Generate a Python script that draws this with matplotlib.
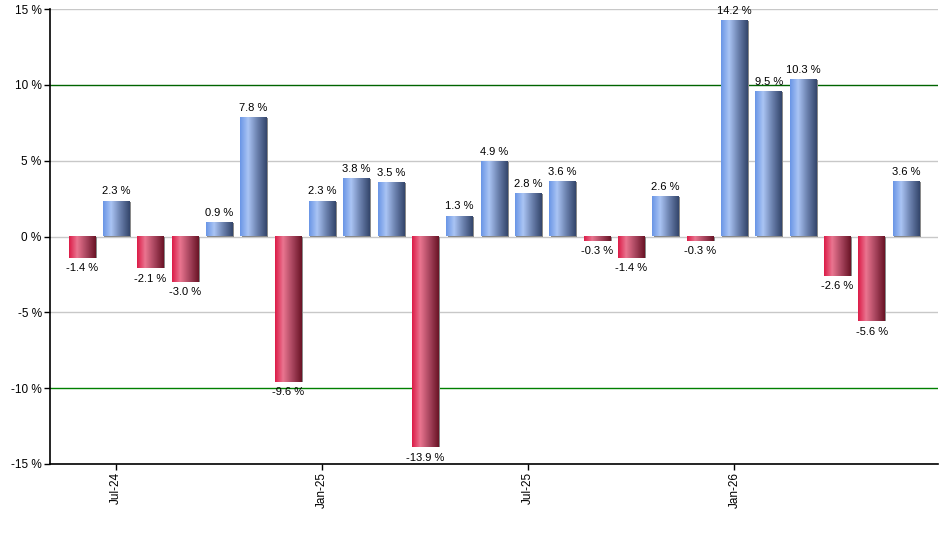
import numpy as np
import matplotlib
matplotlib.use('Agg')
import matplotlib.pyplot as plt
from matplotlib.colors import LinearSegmentedColormap
from matplotlib.patches import Rectangle

# monthly returns, Jun-24 .. Jun-26
months = ['Jun-24', 'Jul-24', 'Aug-24', 'Sep-24', 'Oct-24', 'Nov-24', 'Dec-24',
          'Jan-25', 'Feb-25', 'Mar-25', 'Apr-25', 'May-25', 'Jun-25',
          'Jul-25', 'Aug-25', 'Sep-25', 'Oct-25', 'Nov-25', 'Dec-25',
          'Jan-26', 'Feb-26', 'Mar-26', 'Apr-26', 'May-26', 'Jun-26']
returns = [-1.4, 2.3, -2.1, -3.0, 0.9, 7.8, -9.6,
           2.3, 3.8, 3.5, -13.9, 1.3, 4.9,
           2.8, 3.6, -0.3, -1.4, 2.6, -0.3,
           14.2, 9.5, 10.3, -2.6, -5.6, 3.6]
tick_months = ['Jul-24', 'Jan-25', 'Jul-25', 'Jan-26']
y_ticks = [-15, -10, -5, 0, 5, 10, 15]

blue_cm = LinearSegmentedColormap.from_list(
    'blue', [(0, '#6a96e6'), (0.3, '#aac4f4'), (0.65, '#6a80ad'), (1, '#34466c')])
red_cm = LinearSegmentedColormap.from_list(
    'red', [(0, '#dc1c48'), (0.3, '#ea7590'), (0.65, '#a8455e'), (1, '#6a1426')])

fig = plt.figure(figsize=(9.4, 5.5), dpi=100)
ax = fig.add_axes([50 / 940, 86 / 550, 888 / 940, 455 / 550])

width = 0.78
grad = np.linspace(0, 1, 64).reshape(1, -1)
x = np.arange(len(returns))
for xi, v in zip(x, returns):
    x0, x1 = xi - width / 2, xi + width / 2
    cm = blue_cm if v >= 0 else red_cm
    # shadow on the right edge
    ax.add_patch(Rectangle((x0 + 0.04, min(0, v)), width, abs(v),
                           facecolor='#8a8a8a', edgecolor='none', zorder=2))
    ax.imshow(grad, cmap=cm, extent=[x0, x1, min(0, v), max(0, v)],
              aspect='auto', interpolation='bilinear', zorder=3)
    if v >= 0:
        ax.text(xi, v + 0.35, f'{v:.1f} %', ha='center', va='bottom',
                fontsize=8, family='Liberation Sans', zorder=4)
    else:
        ax.text(xi, v - 0.35, f'{v:.1f} %', ha='center', va='top',
                fontsize=8, family='Liberation Sans', zorder=4)

ax.set_xlim(-0.93, len(returns) - 1 + 0.93)
ax.set_ylim(-15, 15)

for yv in y_ticks:
    if abs(yv) == 10:
        continue
    ax.axhline(yv, color='#c8c8c8', lw=1, zorder=1)
ax.axhline(10, color='#006400', lw=1, zorder=1)
ax.axhline(-10, color='#008000', lw=1, zorder=1)

ax.set_yticks(y_ticks)
ax.set_yticklabels([f'{t} %' for t in y_ticks], family='Liberation Sans', fontsize=8.5)
ax.set_xticks([months.index(m) for m in tick_months])
ax.set_xticklabels(tick_months, rotation=90, family='Liberation Sans', fontsize=8.5)
ax.tick_params(axis='both', length=4, width=1, color='black', pad=2)

for side in ['top', 'right']:
    ax.spines[side].set_visible(False)
ax.spines['left'].set_linewidth(1.2)
ax.spines['bottom'].set_linewidth(1.2)

fig.savefig('out.png', dpi=100)
